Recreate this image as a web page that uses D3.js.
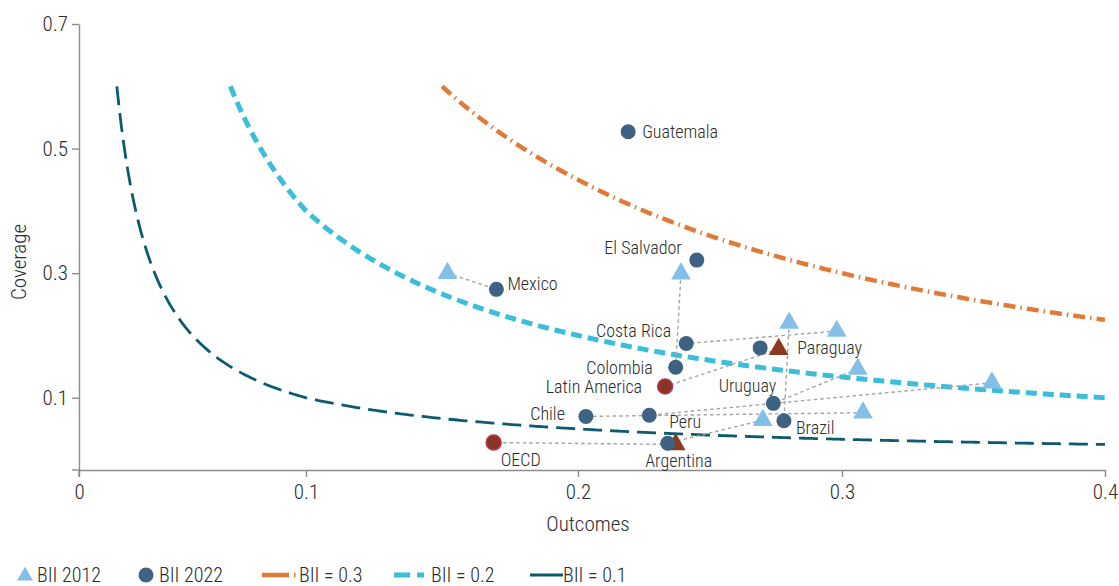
<!DOCTYPE html>
<html>
<head>
<meta charset="utf-8">
<script src="https://cdn.jsdelivr.net/npm/d3@7"></script>
<style>
  html, body { margin: 0; padding: 0; background: #fff; }
  svg { display: block; }
  text { font-family: "Roboto Condensed", "Roboto", sans-serif; font-stretch: condensed; font-weight: 300; fill: #2b2b2b; }
</style>
</head>
<body>
<svg id="chart" width="1119" height="586"></svg>
<script>
// Budget inclusion: outcomes vs coverage, 2012 and 2022
const countries   = ["Guatemala", "El Salvador", "Mexico", "Costa Rica", "Colombia", "Paraguay", "Brazil", "Uruguay", "Peru", "Chile", "Argentina", "Latin America", "OECD"];
const outcomes2012 = [null, null, 0.152, 0.298, 0.239, null, 0.280, 0.306, 0.357, 0.308, 0.270, 0.276, 0.237];
const coverage2012 = [null, null, 0.300, 0.207, 0.299, null, 0.220, 0.146, 0.124, 0.076, 0.064, 0.178, 0.025];
const outcomes2022 = [0.219, 0.245, 0.170, 0.241, 0.237, 0.269, 0.278, 0.274, 0.227, 0.203, 0.234, 0.233, 0.169];
const coverage2022 = [0.527, 0.321, 0.274, 0.187, 0.149, 0.180, 0.063, 0.091, 0.072, 0.070, 0.027, 0.118, 0.028];
const aggregates   = ["Latin America", "OECD"];

// Iso-BII curves: BII = sqrt(outcomes * coverage)
const biiLevels   = [0.3, 0.2, 0.1];
const curveMaxCoverage = 0.6;

const outcomeTicks  = [0, 0.1, 0.2, 0.3, 0.4];
const coverageTicks = [0.1, 0.3, 0.5, 0.7];

const legendLabels = ["BII 2012", "BII 2022", "BII = 0.3", "BII = 0.2", "BII = 0.1"];

// ---- layout ----
const svg = d3.select("#chart");
const axisColor = "#8c8c8c";
const col = {
  tri: "#84bfe8",
  dot: "#3e6281",
  aggFill: "#8b3322",
  aggStroke: "#b23a5c",
  aggTri: "#8b3a1f",
  link: "#a3a3a3",
  bii: { 0.3: "#e07a38", 0.2: "#3abed9", 0.1: "#0c5b6e" }
};
const biiStyle = {
  0.3: { width: 4.5, dash: "12,5,1.5,5" },
  0.2: { width: 5, dash: "11,6" },
  0.1: { width: 2.8, dash: "19,8" }
};

const x = d3.scaleLinear().domain(outcomeTicks).range([79, 306, 578, 842, 1105]);
const y = d3.scaleLinear().domain([-0.016, 0.7]).range([470, 24]);

// axes
const xAxis = svg.append("g").attr("transform", `translate(0,${y(-0.016)})`)
  .call(d3.axisBottom(x).tickValues(outcomeTicks).tickSize(7).tickSizeOuter(0).tickPadding(7)
    .tickFormat(d => d === 0 ? "0" : d3.format(".1f")(d)));
const yAxis = svg.append("g").attr("transform", `translate(${x(0)},0)`)
  .call(d3.axisLeft(y).tickValues(coverageTicks).tickSize(7).tickSizeOuter(0).tickPadding(4)
    .tickFormat(d3.format(".1f")));
[xAxis, yAxis].forEach(g => {
  g.select(".domain").attr("stroke", axisColor).attr("stroke-width", 1.4);
  g.selectAll(".tick line").attr("stroke", axisColor).attr("stroke-width", 1.4);
  g.selectAll(".tick text").style("font-size", "21px").attr("fill", "#2b2b2b");
});
// axes overshoot slightly past the corner
svg.append("line").attr("x1", x(0) - 7).attr("x2", x(0)).attr("y1", y(-0.016)).attr("y2", y(-0.016))
  .attr("stroke", axisColor).attr("stroke-width", 1.4);
svg.append("line").attr("x1", x(0)).attr("x2", x(0)).attr("y1", y(-0.016)).attr("y2", y(-0.016) + 7)
  .attr("stroke", axisColor).attr("stroke-width", 1.4);

svg.append("text").attr("x", 588).attr("y", 531).attr("text-anchor", "middle")
  .style("font-size", "21px").text("Outcomes");
svg.append("text").attr("transform", "translate(26,262) rotate(-90)").attr("text-anchor", "middle")
  .style("font-size", "21px").text("Coverage");

// iso-BII curves
const line = d3.line().x(d => x(d[0])).y(d => y(d[1])).curve(d3.curveLinear);
biiLevels.forEach(b => {
  const x0 = b * b / curveMaxCoverage;
  const pts = d3.range(x0, 0.4, 0.001).concat([0.4]).map(o => [o, b * b / o]);
  svg.append("path").datum(pts).attr("d", line).attr("fill", "none")
    .attr("stroke", col.bii[b]).attr("stroke-width", biiStyle[b].width)
    .attr("stroke-dasharray", biiStyle[b].dash);
});

// records
const recs = countries.map((c, i) => ({
  name: c, agg: aggregates.includes(c),
  o12: outcomes2012[i], c12: coverage2012[i],
  o22: outcomes2022[i], c22: coverage2022[i]
}));

// connectors 2012 -> 2022
svg.append("g").selectAll("line").data(recs.filter(r => r.o12 != null)).join("line")
  .attr("x1", r => x(r.o12)).attr("y1", r => y(r.c12))
  .attr("x2", r => x(r.o22)).attr("y2", r => y(r.c22))
  .attr("stroke", col.link).attr("stroke-width", 1.4).attr("stroke-dasharray", "3.5,3");

// 2012 triangles
const tri = d3.symbol().type(d3.symbolTriangle).size(170);
svg.append("g").selectAll("path").data(recs.filter(r => r.o12 != null)).join("path")
  .attr("d", tri).attr("transform", r => `translate(${x(r.o12)},${y(r.c12)})`)
  .attr("fill", r => r.agg ? col.aggTri : col.tri);

// 2022 circles
svg.append("g").selectAll("circle").data(recs).join("circle")
  .attr("cx", r => x(r.o22)).attr("cy", r => y(r.c22)).attr("r", 7.5)
  .attr("fill", r => r.agg ? col.aggFill : col.dot)
  .attr("stroke", r => r.agg ? col.aggStroke : "none").attr("stroke-width", 1.5);

// labels (offsets from each 2022 marker)
const labelPos = {
  "Guatemala":     { dx: 14,  dy: 0,   anchor: "start" },
  "El Salvador":   { dx: -15, dy: -12, anchor: "end" },
  "Mexico":        { dx: 11,  dy: -6,  anchor: "start" },
  "Costa Rica":    { dx: -15, dy: -13, anchor: "end" },
  "Colombia":      { dx: -23, dy: 0,   anchor: "end" },
  "Paraguay":      { dx: 37,  dy: 0,   anchor: "start" },
  "Brazil":        { dx: 12,  dy: 7,   anchor: "start" },
  "Uruguay":       { dx: 3,   dy: -18, anchor: "end" },
  "Peru":          { dx: 20,  dy: 7,   anchor: "start" },
  "Chile":         { dx: -21, dy: -3,  anchor: "end" },
  "Argentina":     { dx: 11,  dy: 17,  anchor: "middle" },
  "Latin America": { dx: -23, dy: 0,   anchor: "end" },
  "OECD":          { dx: 7,   dy: 17,  anchor: "start" }
};
svg.append("g").selectAll("text").data(recs).join("text")
  .attr("x", r => x(r.o22) + labelPos[r.name].dx)
  .attr("y", r => y(r.c22) + labelPos[r.name].dy)
  .attr("dy", "0.35em")
  .attr("text-anchor", r => labelPos[r.name].anchor)
  .style("font-size", "18px")
  .text(r => r.name);

// legend
const lg = svg.append("g").attr("transform", "translate(0,575)");
lg.append("path").attr("d", d3.symbol().type(d3.symbolTriangle).size(110)).attr("transform", "translate(25,1)").attr("fill", col.tri);
lg.append("circle").attr("cx", 146).attr("cy", 0).attr("r", 7.5).attr("fill", col.dot);
lg.append("line").attr("x1", 262).attr("x2", 297).attr("stroke", col.bii[0.3]).attr("stroke-width", 4.5).attr("stroke-dasharray", "27,5,1.5,20");
lg.append("line").attr("x1", 394).attr("x2", 424).attr("stroke", col.bii[0.2]).attr("stroke-width", 5).attr("stroke-dasharray", "16,7,7,20");
lg.append("line").attr("x1", 530).attr("x2", 563).attr("stroke", col.bii[0.1]).attr("stroke-width", 2.8);
const lgX = [37, 159, 299, 431, 563];
lg.selectAll("text").data(legendLabels).join("text")
  .attr("x", (d, i) => lgX[i]).attr("y", 0).attr("dy", "0.35em")
  .style("font-size", "20px").text(d => d);
</script>
</body>
</html>
